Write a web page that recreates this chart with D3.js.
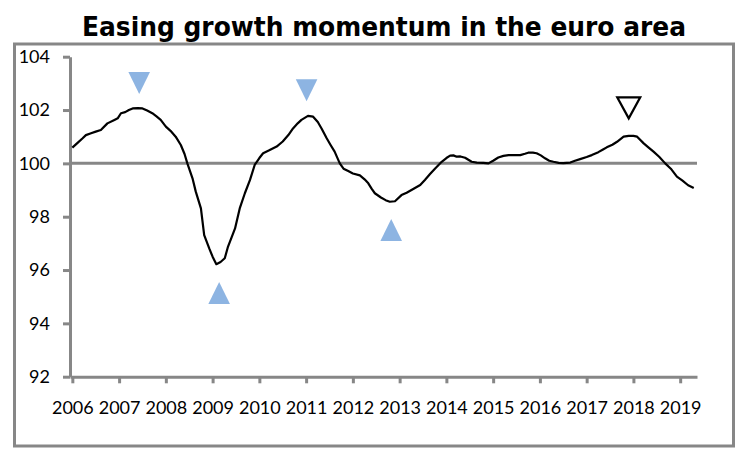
<!DOCTYPE html>
<html>
<head>
<meta charset="utf-8">
<script src="https://cdn.jsdelivr.net/npm/d3@7"></script>
<style>
	body { margin: 0; background: #fff; }
	text { font-family: Lato, "Open Sans", sans-serif; }
</style>
</head>
<body>
<div id="chart"></div>
<script>
const title = "Easing growth momentum in the euro area";

// decimal years and index values
const dates = [
	2006.0, 2006.1, 2006.22, 2006.29, 2006.4, 2006.5, 2006.61, 2006.75, 2006.9, 2006.97,
	2007.04, 2007.13, 2007.21, 2007.29, 2007.4, 2007.5, 2007.6, 2007.71, 2007.8, 2007.89,
	2008.0, 2008.1, 2008.21, 2008.32, 2008.4, 2008.46, 2008.57, 2008.64, 2008.75, 2008.82,
	2008.93, 2009.0, 2009.08, 2009.17, 2009.26, 2009.33, 2009.4, 2009.48, 2009.58, 2009.69,
	2009.8, 2009.9, 2010.0, 2010.08, 2010.2, 2010.37, 2010.5, 2010.62, 2010.72, 2010.82,
	2010.9, 2011.04, 2011.15, 2011.25, 2011.33, 2011.44, 2011.52, 2011.61, 2011.72, 2011.8,
	2011.9, 2012.0, 2012.15, 2012.25, 2012.33, 2012.4, 2012.47, 2012.6, 2012.7, 2012.79,
	2012.9, 2013.04, 2013.15, 2013.3, 2013.44, 2013.54, 2013.65, 2013.76, 2013.9, 2014.0,
	2014.08, 2014.15, 2014.22, 2014.3, 2014.4, 2014.54, 2014.65, 2014.79, 2014.9, 2015.0,
	2015.11, 2015.22, 2015.33, 2015.45, 2015.58, 2015.68, 2015.75, 2015.85, 2015.93, 2016.02,
	2016.11, 2016.2, 2016.29, 2016.4, 2016.5, 2016.65, 2016.75, 2016.86, 2017.0, 2017.11,
	2017.25, 2017.35, 2017.43, 2017.55, 2017.65, 2017.79, 2017.9, 2018.0, 2018.08, 2018.22,
	2018.32, 2018.43, 2018.55, 2018.68, 2018.8, 2018.93, 2019.05, 2019.17, 2019.29
];
const values = [
	100.59, 100.75, 100.94, 101.06, 101.13, 101.19, 101.25, 101.5, 101.63, 101.69,
	101.88, 101.92, 102.0, 102.06, 102.07, 102.06, 101.98, 101.88, 101.76, 101.63,
	101.38, 101.22, 101.0, 100.69, 100.35, 100.0, 99.44, 98.94, 98.31, 97.31,
	96.8, 96.5, 96.22, 96.3, 96.44, 96.88, 97.2, 97.56, 98.31, 98.88,
	99.38, 99.94, 100.2, 100.38, 100.48, 100.63, 100.82, 101.06, 101.31, 101.5,
	101.63, 101.78, 101.75, 101.55, 101.31, 100.94, 100.7, 100.44, 100.0, 99.8,
	99.71, 99.62, 99.55, 99.4, 99.25, 99.05, 98.88, 98.72, 98.62, 98.56,
	98.58, 98.81, 98.9, 99.05, 99.19, 99.38, 99.6, 99.81, 100.06, 100.2,
	100.29, 100.3, 100.25, 100.26, 100.21, 100.06, 100.03, 100.02, 100.0, 100.1,
	100.22, 100.28, 100.31, 100.31, 100.31, 100.36, 100.4, 100.4, 100.38, 100.3,
	100.19, 100.1, 100.06, 100.02, 100.01, 100.03, 100.1, 100.16, 100.24, 100.31,
	100.42, 100.52, 100.6, 100.7, 100.81, 101.0, 101.03, 101.03, 101.0, 100.75,
	100.6, 100.44, 100.25, 100.0, 99.8, 99.5, 99.35, 99.18, 99.08
];

const yTicks = [92, 94, 96, 98, 100, 102, 104];
const xTicks = [2006, 2007, 2008, 2009, 2010, 2011, 2012, 2013, 2014, 2015, 2016, 2017, 2018, 2019];

// turning point markers
const markerDates = [2007.43, 2009.14, 2011.01, 2012.82, 2017.9];
const markerValues = [103.01, 95.14, 102.74, 97.5, 102.08];
const markerDirs = ["down", "up", "down", "up", "down"];
const markerHollow = [false, false, false, false, true];

const width = 752, height = 458;
const grey = "#878787";
const blue = "#8db4e2";

const svg = d3.select("#chart").append("svg").attr("width", width).attr("height", height);

// outer frame
svg.append("rect")
	.attr("x", 14.5).attr("y", 44).attr("width", 719).attr("height", 402)
	.attr("fill", "none").attr("stroke", grey).attr("stroke-width", 3);

svg.append("text")
	.attr("x", 384).attr("y", 36)
	.attr("text-anchor", "middle")
	.attr("textLength", 604).attr("lengthAdjust", "spacingAndGlyphs")
	.style("font-family", "'DejaVu Sans', Verdana, sans-serif")
	.style("font-weight", "bold").style("font-size", "26px")
	.text(title);

const x = d3.scaleLinear().domain([2005.95, 2019.36]).range([70, 697]);
const y = d3.scaleLinear().domain([92, 104]).range([376.7, 56.7]);

// y axis
let yAxis = svg.append("g")
	.attr("transform", "translate(70,0)")
	.call(d3.axisLeft(y).tickValues(yTicks).tickSize(7).tickSizeOuter(0).tickPadding(13).tickFormat(d3.format("d")));

// x axis
let xAxis = svg.append("g")
	.attr("transform", "translate(0," + y(92) + ")")
	.call(d3.axisBottom(x).tickValues(xTicks).tickSize(6.6).tickSizeOuter(0).tickPadding(18).tickFormat(d3.format("d")));

[yAxis, xAxis].forEach((g) => {
	g.select(".domain").attr("stroke", grey).attr("stroke-width", 3);
	g.selectAll(".tick line").attr("stroke", grey).attr("stroke-width", 3);
	g.selectAll(".tick text").attr("fill", "#000").style("font-size", "18px").style("font-family", "Lato, sans-serif");
});

// reference line at 100
svg.append("line")
	.attr("x1", x.range()[0]).attr("x2", x.range()[1])
	.attr("y1", y(100)).attr("y2", y(100))
	.attr("stroke", grey).attr("stroke-width", 3);

let series = dates.map((d, i) => ({ date: d, value: values[i] }));

svg.append("path")
	.datum(series)
	.attr("fill", "none")
	.attr("stroke", "#000")
	.attr("stroke-width", 2.2)
	.attr("stroke-linejoin", "round")
	.attr("d", d3.line().x((d) => x(d.date)).y((d) => y(d.value)));

function triangle(cx, cy, dir, hw, hh) {
	if (dir === "down") return `M${cx - hw},${cy - hh}L${cx + hw},${cy - hh}L${cx},${cy + hh}Z`;
	return `M${cx - hw},${cy + hh}L${cx + hw},${cy + hh}L${cx},${cy - hh}Z`;
}

svg.selectAll("path.marker")
	.data(markerDates)
	.enter()
	.append("path")
	.attr("class", "marker")
	.attr("d", (d, i) => markerHollow[i]
		? triangle(x(d), y(markerValues[i]), markerDirs[i], 11.5, 10.5)
		: triangle(x(d), y(markerValues[i]), markerDirs[i], 10.8, 11))
	.attr("fill", (d, i) => (markerHollow[i] ? "#fff" : blue))
	.attr("stroke", (d, i) => (markerHollow[i] ? "#000" : "none"))
	.attr("stroke-width", 2.2)
	.attr("stroke-linejoin", "miter");
</script>
</body>
</html>
